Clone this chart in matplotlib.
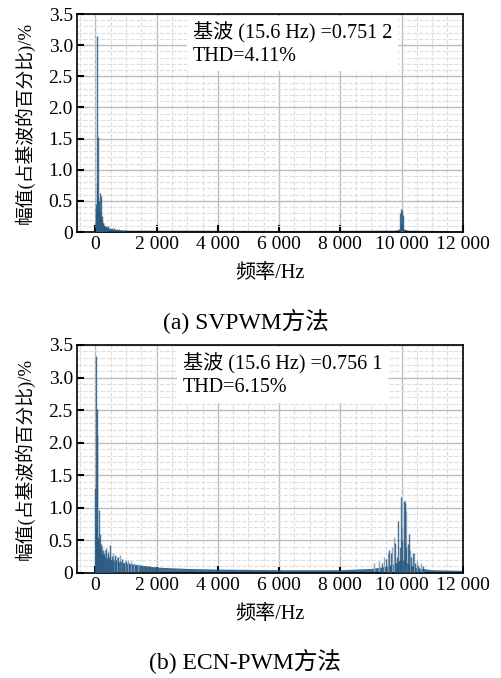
import numpy as np
import matplotlib
matplotlib.use("Agg")
import matplotlib.pyplot as plt

plt.rcParams['font.family'] = ['Liberation Serif', 'Noto Sans CJK SC']
plt.rcParams['font.size'] = 14

# (a) SVPWM spectrum lines (Hz, % of fundamental)
a_freq = [16, 31, 47, 62, 78, 94, 109, 125, 141, 156, 172, 187, 203, 219, 234, 250,
          281, 312, 344, 375, 406, 469, 531, 594, 656, 719, 781, 844, 906, 969,
          9953, 9969, 10031, 10047]
a_amp = [0.20, 0.45, 3.15, 0.78, 0.55, 1.53, 0.50, 0.35, 0.62, 0.30, 0.58, 0.22, 0.25, 0.18, 0.15, 0.14,
         0.12, 0.10, 0.09, 0.08, 0.09, 0.07, 0.06, 0.06, 0.05, 0.05, 0.05, 0.04, 0.04, 0.04,
         0.30, 0.37, 0.35, 0.28]
# noise floor envelope
a_floor_f = [0, 100, 300, 600, 1000, 3000, 6000, 9800, 10000, 10200, 12000]
a_floor_v = [0.40, 0.20, 0.08, 0.04, 0.03, 0.03, 0.025, 0.03, 0.06, 0.03, 0.02]

# (b) ECN-PWM spectrum lines (dark)
b_freq = [0, 16, 31, 47, 62, 78, 94, 109, 125, 141, 156, 172, 187, 203, 219, 250,
          281, 312, 344, 375, 406, 438, 469, 500, 531, 562, 625, 688, 750, 812,
          875, 938, 1000, 1094, 1188, 1281, 1375, 1500, 1625, 1750, 1875, 2000,
          9350, 9500, 9600, 9650, 9800, 9850, 9900, 9950, 9980, 10030, 10070, 10115,
          10160, 10200, 10250, 10300, 10360, 10450, 10550, 10700]
b_amp = [1.30, 3.33, 0.70, 2.12, 2.52, 0.55, 0.50, 0.97, 0.45, 0.60, 0.40, 0.35, 0.45, 0.30, 0.28, 0.35,
         0.30, 0.25, 0.38, 0.22, 0.30, 0.25, 0.43, 0.20, 0.26, 0.22, 0.27, 0.20, 0.24, 0.18,
         0.22, 0.16, 0.18, 0.15, 0.14, 0.12, 0.13, 0.11, 0.10, 0.10, 0.09, 0.09,
         0.15, 0.22, 0.35, 0.30, 0.46, 0.25, 0.80, 0.40, 1.17, 0.50, 1.11, 1.08,
         0.40, 0.45, 0.60, 0.25, 0.30, 0.15, 0.12, 0.10]
# (b) lighter, taller side lines
b_light_f = [230, 300, 360, 420, 480, 560, 640, 720, 800, 880, 960, 1050, 1150, 1250, 1400,
             9100, 9250, 9420, 9550, 9700, 9750, 10010, 10100, 10140, 10280, 10400, 10500, 10650]
b_light_v = [0.42, 0.35, 0.30, 0.33, 0.28, 0.30, 0.26, 0.25, 0.27, 0.22, 0.20, 0.20, 0.18, 0.16, 0.14,
             0.15, 0.18, 0.25, 0.30, 0.40, 0.55, 0.70, 1.12, 0.95, 0.35, 0.30, 0.20, 0.15]
b_floor_f = [0, 200, 500, 1000, 1500, 2000, 3000, 4000, 6000, 8000, 9000, 9500, 9800, 10000, 10200, 10500, 11000, 12000]
b_floor_v = [0.60, 0.30, 0.20, 0.15, 0.12, 0.09, 0.07, 0.06, 0.05, 0.05, 0.07, 0.10, 0.15, 0.22, 0.15, 0.08, 0.05, 0.04]

x_ticks = [0, 2000, 4000, 6000, 8000, 10000, 12000]
x_labels = ['0', '2 000', '4 000', '6 000', '8 000', '10 000', '12 000']
y_ticks = [0, 0.5, 1.0, 1.5, 2.0, 2.5, 3.0, 3.5]
y_labels = ['0', '0.5', '1.0', '1.5', '2.0', '2.5', '3.0', '3.5']

panels = [
    (a_freq, a_amp, [], [], a_floor_f, a_floor_v, '基波 (15.6 Hz) =0.751 2\nTHD=4.11%', '(a) SVPWM方法'),
    (b_freq, b_amp, b_light_f, b_light_v, b_floor_f, b_floor_v, '基波 (15.6 Hz) =0.756 1\nTHD=6.15%', '(b) ECN-PWM方法'),
]

fig = plt.figure(figsize=(5.01, 6.78), dpi=100)
ax_pos = [[0.1537, 0.6578, 0.770, 0.3215], [0.1537, 0.1549, 0.770, 0.3363]]
text_x = [0.30, 0.275]
cap_y = [1 - 322 / 678, 1 - 662 / 678]
line_col = '#2a5a82'
light_col = '#8eaac2'

for i, (fr, am, lf, lv, ff, fv, txt, cap) in enumerate(panels):
    ax = fig.add_axes(ax_pos[i])
    ax.fill_between(ff, 0, fv, color=line_col, lw=0, alpha=0.9, zorder=2)
    if lf:
        ax.vlines(lf, 0, lv, color=light_col, lw=1.0, zorder=2.5)
    ax.vlines(fr, 0, am, color=line_col, lw=1.0, alpha=0.85, zorder=3)
    ax.set_xlim(-600, 12000)
    ax.set_ylim(0, 3.5)
    ax.set_xticks(x_ticks)
    ax.set_xticklabels(x_labels)
    ax.set_yticks(y_ticks)
    ax.set_yticklabels(y_labels)
    ax.set_xticks(np.arange(-500, 12001, 500), minor=True)
    ax.set_yticks(np.arange(0, 3.51, 0.1), minor=True)
    ax.grid(which='major', color='#bdbdbd', lw=1.0, ls='-', zorder=0)
    ax.grid(which='minor', color='#dedede', lw=0.8, ls='--', zorder=0)
    ax.set_axisbelow(True)
    ax.tick_params(which='major', direction='in', length=5, width=1.5, labelsize=14, pad=3)
    ax.tick_params(which='minor', length=0)
    for s in ax.spines.values():
        s.set_linewidth(1.2)
    ax.set_ylabel('幅值(占基波的百分比)/%', fontsize=13.5, labelpad=10)
    ax.set_xlabel('频率/Hz', fontsize=14.5, labelpad=8)
    ax.text(text_x[i], 0.965, txt, transform=ax.transAxes, va='top', ha='left', fontsize=14.5,
            linespacing=1.25, zorder=5,
            bbox=dict(facecolor='white', edgecolor='none', pad=4))
    fig.text(0.49, cap_y[i], cap, ha='center', va='center', fontsize=17)

plt.savefig('out.png', dpi=100)
